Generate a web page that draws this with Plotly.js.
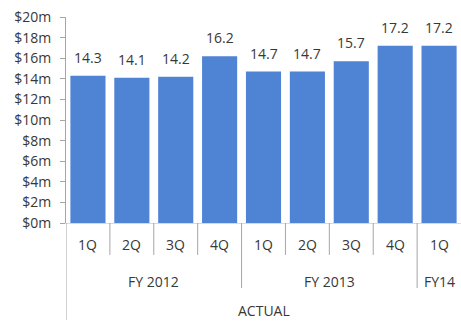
<!DOCTYPE html>
<html><head><meta charset="utf-8">
<script src="https://cdn.plot.ly/plotly-3.0.1.min.js"></script>
<style>html,body{margin:0;padding:0;background:#fff}#chart{width:461px;height:323px}</style>
</head><body><div id="chart"></div>
<script>
const quarters = ['1Q','2Q','3Q','4Q','1Q','2Q','3Q','4Q','1Q'];
const fiscalYears = ['FY 2012','FY 2013','FY14'];
const fyCounts = [4,4,1];
const topGroup = 'ACTUAL';
const revenue = [14.3,14.1,14.2,16.2,14.7,14.7,15.7,17.2,17.2];
const yTicks = [0,2,4,6,8,10,12,14,16,18,20];

const idx = quarters.map((_, i) => i);
const txtColor = '#383838';
const lineColor = '#a6a6a6';
const font = {family: 'Open Sans, Liberation Sans, sans-serif', size: 14, color: txtColor};

const annotations = [];
const shapes = [];
revenue.forEach((v, i) => annotations.push({x: i, y: v, xref: 'x', yref: 'y', text: v.toFixed(1),
  showarrow: false, yanchor: 'bottom', yshift: 7, font: font}));
quarters.forEach((q, i) => {
  annotations.push({x: i, y: -0.102, xref: 'x', yref: 'paper', text: q, showarrow: false, yanchor: 'middle', font: font});
});
let start = 0;
fiscalYears.forEach((fy, g) => {
  const n = fyCounts[g];
  annotations.push({x: start + (n - 1) / 2, y: -0.282, xref: 'x', yref: 'paper', text: fy, showarrow: false, yanchor: 'middle', font: font});
  for (let k = 1; k < n; k++) {
    shapes.push({type: 'line', xref: 'x', yref: 'paper', x0: start + k - 0.5, x1: start + k - 0.5, y0: 0, y1: -0.155, line: {color: lineColor, width: 1}});
  }
  if (g > 0) {
    shapes.push({type: 'line', xref: 'x', yref: 'paper', x0: start - 0.5, x1: start - 0.5, y0: 0, y1: -0.316, line: {color: lineColor, width: 1}});
  }
  start += n;
});
annotations.push({x: (quarters.length - 1) / 2, y: -0.427, xref: 'x', yref: 'paper', text: topGroup, showarrow: false, yanchor: 'middle', font: font});
shapes.push({type: 'line', xref: 'x', yref: 'paper', x0: -0.5, x1: -0.5, y0: 0, y1: -0.471, line: {color: lineColor, width: 1}});

const data = [{type: 'bar', x: idx, y: revenue, marker: {color: '#4f83d3'}, hoverinfo: 'skip'}];
const layout = {
  width: 461, height: 323,
  margin: {l: 66, r: 0, t: 17, b: 100},
  paper_bgcolor: '#fff', plot_bgcolor: '#fff',
  bargap: 0.2,
  showlegend: false,
  font: font,
  xaxis: {range: [-0.5, 8.5], showticklabels: false, showgrid: false, zeroline: false,
    showline: true, linecolor: '#d9d9d9', linewidth: 1, ticks: ''},
  yaxis: {range: [0, 20], tickvals: yTicks, ticktext: yTicks.map(v => '$' + v + 'm'),
    showgrid: false, zeroline: false, showline: true, linecolor: lineColor, linewidth: 1,
    ticks: 'outside', ticklen: 5, tickcolor: lineColor, ticklabelstandoff: 6, tickfont: font},
  annotations: annotations,
  shapes: shapes
};
Plotly.newPlot('chart', data, layout, {staticPlot: true, displayModeBar: false});
</script></body></html>
